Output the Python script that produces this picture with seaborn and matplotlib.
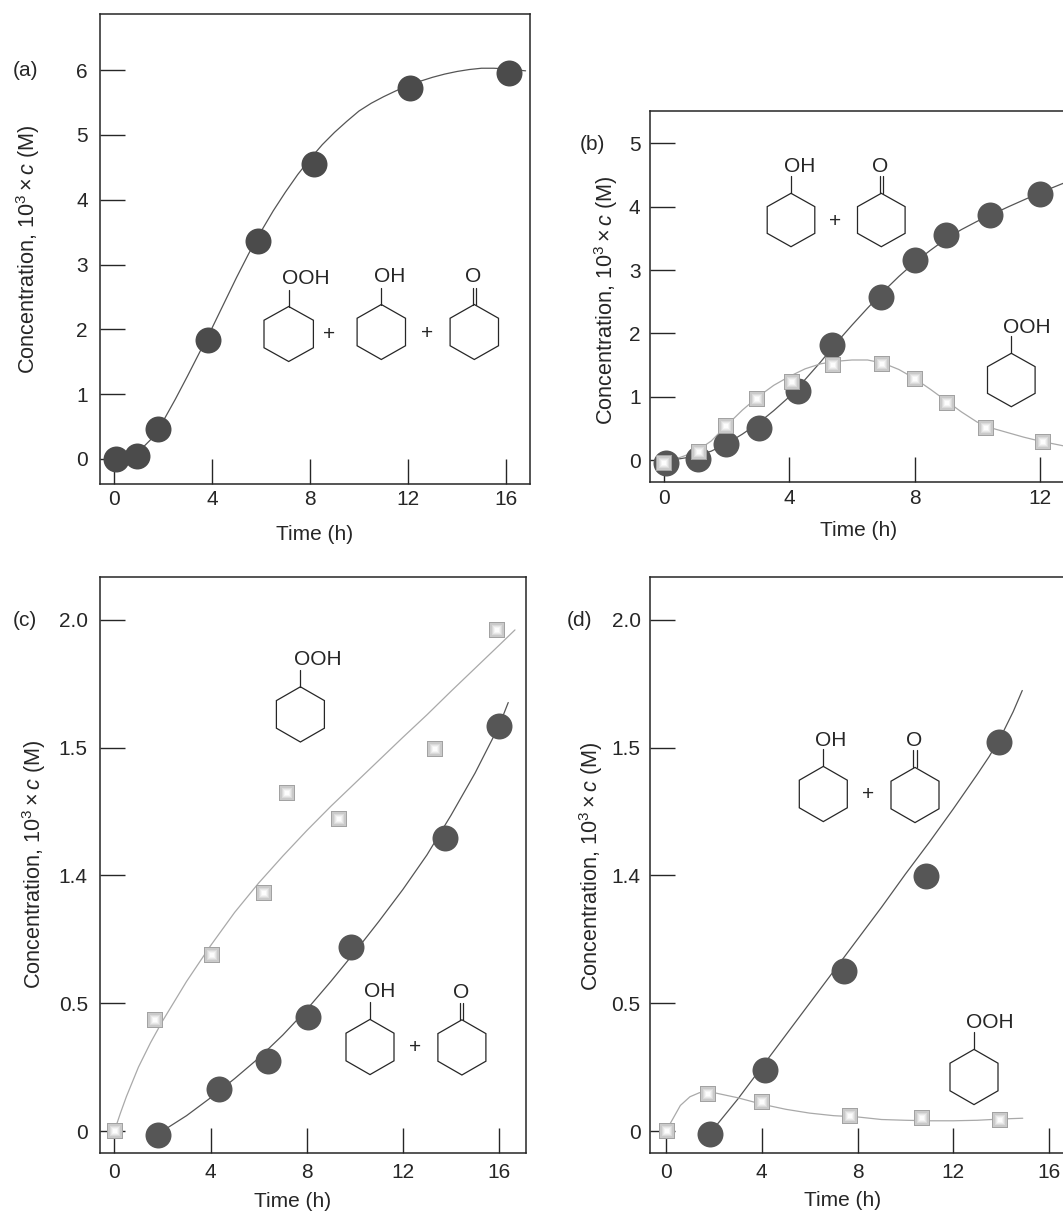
import numpy as np
import matplotlib
matplotlib.use("Agg")
import matplotlib.pyplot as plt
from matplotlib.lines import Line2D
from matplotlib.patches import Polygon
import seaborn as sns

# Panel (a)
a_t = [0.1, 0.95, 1.8, 3.83, 5.86, 8.17, 12.07, 16.13]
a_c = [0.0, 0.05, 0.46, 1.84, 3.36, 4.55, 5.73, 5.95]
a_fit_t = [0, 0.5, 1, 1.5, 2, 2.5, 3, 3.5, 4, 4.5, 5, 5.5, 6, 6.5, 7, 7.5, 8, 8.5, 9, 9.5, 10, 10.5, 11,
           11.5, 12, 12.5, 13, 13.5, 14, 14.5, 15, 15.5, 16, 16.8]
a_fit_c = [0.0, 0.02, 0.11, 0.3, 0.58, 0.92, 1.28, 1.65, 2.02, 2.41, 2.8, 3.17, 3.51, 3.83, 4.12, 4.39, 4.63,
           4.85, 5.04, 5.21, 5.37, 5.49, 5.59, 5.68, 5.76, 5.83, 5.89, 5.94, 5.98, 6.01, 6.03, 6.03, 6.02, 5.99]

# Panel (b)
b_t = [0.06, 1.08, 1.97, 3.04, 4.27, 5.35, 6.92, 8.01, 9.02, 10.4, 12.0]
b_c = [-0.04, 0.02, 0.25, 0.5, 1.09, 1.82, 2.58, 3.16, 3.55, 3.87, 4.21]
b_sq_t = [0.0, 1.11, 1.97, 2.95, 4.08, 5.41, 6.96, 8.02, 9.03, 10.28, 12.1]
b_sq_c = [-0.04, 0.13, 0.53, 0.97, 1.23, 1.5, 1.52, 1.28, 0.9, 0.5, 0.29]
b_fit_t = [0, 0.5, 1, 1.5, 2, 2.5, 3, 3.5, 4, 4.5, 5, 5.5, 6, 6.5, 7, 7.5, 8, 8.5, 9, 9.5, 10, 11, 12, 13]
b_fit_c = [0.0, 0.02, 0.06, 0.14, 0.26, 0.41, 0.58, 0.78, 1.0, 1.27, 1.55, 1.85, 2.13, 2.4, 2.66, 2.9, 3.12,
           3.31, 3.49, 3.64, 3.77, 4.0, 4.22, 4.42]
b_sq_fit_t = [0, 0.5, 1, 1.5, 2, 2.5, 3, 3.5, 4, 4.5, 5, 5.5, 6, 6.5, 7, 7.5, 8, 8.5, 9, 9.5, 10, 10.5, 11, 11.5, 12, 13]
b_sq_fit_c = [0.0, 0.04, 0.13, 0.3, 0.55, 0.79, 1.0, 1.18, 1.32, 1.44, 1.52, 1.56, 1.58, 1.58, 1.53, 1.43, 1.29,
              1.12, 0.94, 0.76, 0.6, 0.5, 0.43, 0.36, 0.3, 0.2]

# Panel (c)
c_t = [1.83, 4.36, 6.39, 8.05, 9.82, 13.76, 15.98]
c_c = [-0.014, 0.166, 0.273, 0.445, 0.718, 1.147, 1.583]
c_sq_t = [0.03, 1.67, 4.04, 6.21, 7.17, 9.35, 13.32, 15.92]
c_sq_c = [0.0, 0.435, 0.688, 0.93, 1.324, 1.222, 1.495, 1.961]
c_fit_t = [2, 3, 4, 5, 6, 7, 8, 9, 10, 11, 12, 13, 14, 15, 16, 16.38]
c_fit_c = [0.0, 0.06, 0.13, 0.205, 0.285, 0.375, 0.475, 0.585, 0.7, 0.82, 0.945, 1.08, 1.235, 1.4, 1.585, 1.676]
c_sq_fit_t = [0, 0.25, 0.5, 1, 1.5, 2, 3, 4, 5, 6, 7, 8, 9, 10, 11, 12, 13, 14, 15, 16, 16.66]
c_sq_fit_c = [0.0, 0.07, 0.135, 0.25, 0.345, 0.43, 0.585, 0.725, 0.855, 0.97, 1.075, 1.175, 1.27, 1.36, 1.45,
              1.54, 1.628, 1.72, 1.81, 1.9, 1.96]

# Panel (d)
d_t = [1.85, 4.12, 7.44, 10.86, 13.91]
d_c = [-0.011, 0.24, 0.624, 0.999, 1.52]
d_sq_t = [0.04, 1.75, 4.01, 7.69, 10.7, 13.95]
d_sq_c = [0.0, 0.144, 0.115, 0.059, 0.051, 0.043]
d_fit_t = [2, 3, 4, 5, 6, 7, 8, 9, 10, 11, 12, 13, 13.5, 14, 14.5, 14.88]
d_fit_c = [0.01, 0.125, 0.25, 0.375, 0.5, 0.625, 0.75, 0.875, 1.005, 1.13, 1.26, 1.395, 1.465, 1.545, 1.64, 1.723]
d_sq_fit_t = [0, 0.3, 0.6, 1, 1.4, 2, 3, 4, 5, 6, 7, 8, 9, 10, 11, 12, 13, 14, 14.9]
d_sq_fit_c = [0.0, 0.05, 0.1, 0.134, 0.15, 0.15, 0.13, 0.105, 0.085, 0.07, 0.06, 0.055, 0.045, 0.042, 0.04,
              0.04, 0.042, 0.047, 0.05]

x_ticks = [0, 4, 8, 12, 16]
x_tick_labels = ["0", "4", "8", "12", "16"]
b_x_ticks = [0, 4, 8, 12]
b_x_tick_labels = ["0", "4", "8", "12"]
a_y_ticks = [0, 1, 2, 3, 4, 5, 6]
b_y_ticks = [0, 1, 2, 3, 4, 5]
cd_y_ticks = [0, 0.5, 1.0, 1.5, 2.0]
cd_y_labels = ["0", "0.5", "1.4", "1.5", "2.0"]

W, H = 1063, 1214
GRAY = "#a9a9a9"
INK = "#262626"

sns.set_theme(style="white")
plt.rcParams["font.family"] = ["Liberation Sans", "DejaVu Sans"]
plt.rcParams["mathtext.fontset"] = "custom"
plt.rcParams["mathtext.rm"] = "Liberation Sans"
plt.rcParams["mathtext.it"] = "Liberation Sans:italic"
plt.rcParams["mathtext.bf"] = "Liberation Sans:bold"

fig = plt.figure(figsize=(W / 100, H / 100), dpi=100, facecolor="white")


def fx(x):
    return x / W


def fy(y):
    return 1 - y / H


def make_axes(left, right, top, bottom, xlim, ylim, xticks, xlabels, yticks, ylabels, xpad, ypad):
    ax = fig.add_axes([fx(left), fy(bottom), (right - left) / W, (bottom - top) / H])
    ax.set_xlim(xlim)
    ax.set_ylim(ylim)
    ax.set_xticks(xticks, xlabels)
    ax.set_yticks(yticks, ylabels)
    ax.tick_params(axis="both", direction="in", length=18, width=1.0, color=INK, labelcolor=INK, labelsize=15)
    ax.tick_params(axis="x", bottom=True, pad=xpad)
    ax.tick_params(axis="y", left=True, pad=ypad)
    for s in ax.spines.values():
        s.set_color(INK)
        s.set_linewidth(1.1)
    return ax


def circles(ax, t, c, fit_t, fit_c, shade="#565656"):
    sns.lineplot(x=fit_t, y=fit_c, ax=ax, color="#555555", linewidth=0.9, estimator=None, sort=False, zorder=2)
    sns.scatterplot(x=t, y=c, ax=ax, marker="o", s=350, color=shade, linewidth=0, zorder=3)


def squares(ax, t, c, fit_t, fit_c):
    sns.lineplot(x=fit_t, y=fit_c, ax=ax, color=GRAY, linewidth=0.9, estimator=None, sort=False, zorder=2)
    # stacked squares give the shaded look of the markers
    layers = [(140, "#a2a2a2"), (112, "#b8b8b8"), (88, "#cacaca"), (60, "#dadada"),
              (36, "#e8e8e8"), (18, "#f4f4f4"), (6, "#fdfdfd")]
    for i, (size, shade) in enumerate(layers):
        sns.scatterplot(x=t, y=c, ax=ax, marker="s", s=size, color=shade, linewidth=0, zorder=4 + i)


def ftext(x, y, s, **kw):
    fig.text(fx(x), fy(y), s, ha=kw.pop("ha", "center"), va="center", color=INK, fontsize=kw.pop("fontsize", 15), **kw)


def ring(cx, cy, hw, hh, group, text_x, text_y, stem=17):
    # cyclohexane drawing, pointy top, with its group above
    xs = [cx, cx + hw, cx + hw, cx, cx - hw, cx - hw]
    ys = [cy - hh, cy - hh / 2, cy + hh / 2, cy + hh, cy + hh / 2, cy - hh / 2]
    pts = [(fx(x), fy(y)) for x, y in zip(xs, ys)]
    fig.add_artist(Polygon(pts, closed=True, fill=False, edgecolor=INK, linewidth=0.9, transform=fig.transFigure))
    top = cy - hh
    offsets = [-1.5, 1.5] if group == "O" else [0]
    for off in offsets:
        fig.add_artist(Line2D([fx(cx + off)] * 2, [fy(top), fy(top - stem)], color=INK, linewidth=0.9))
    ftext(text_x, text_y, group)


# (a)
ax_a = make_axes(99.6, 530, 14, 484, (-0.588, 16.98), (-0.386, 6.867), x_ticks, x_tick_labels,
                 a_y_ticks, [str(v) for v in a_y_ticks], 4.5, 8.5)
circles(ax_a, a_t, a_c, a_fit_t, a_fit_c, shade="#4b4b4b")

# (b) runs off the right side of the page
ax_b = make_axes(650.3, 1196, 110.7, 482.3, (-0.447, 17), (-0.352, 5.518), b_x_ticks, b_x_tick_labels,
                 b_y_ticks, [str(v) for v in b_y_ticks], 4.5, 7)
circles(ax_b, b_t, b_c, b_fit_t, b_fit_c)
squares(ax_b, b_sq_t, b_sq_c, b_sq_fit_t, b_sq_fit_c)

# (c)
ax_c = make_axes(99.6, 526.5, 577, 1153, (-0.616, 17.14), (-0.086, 2.167), x_ticks, x_tick_labels,
                 cd_y_ticks, cd_y_labels, 7, 8.5)
circles(ax_c, c_t, c_c, c_fit_t, c_fit_c)
squares(ax_c, c_sq_t, c_sq_c, c_sq_fit_t, c_sq_fit_c)

# (d)
ax_d = make_axes(650.3, 1096, 577, 1153, (-0.656, 17.96), (-0.086, 2.167), x_ticks, x_tick_labels,
                 cd_y_ticks, cd_y_labels, 7, 7)
circles(ax_d, d_t, d_c, d_fit_t, d_fit_c)
squares(ax_d, d_sq_t, d_sq_c, d_sq_fit_t, d_sq_fit_c)

for ax in [ax_a, ax_b, ax_c, ax_d]:
    ax.set_xlabel("")
    ax.set_ylabel("")

ylab = r"Concentration, $\mathregular{10^3}\times\mathit{c}$ (M)"
ftext(27.7, 249, ylab, rotation=90, fontsize=15.6)
ftext(606.5, 300, ylab, rotation=90, fontsize=15.6)
ftext(33.9, 864, ylab, rotation=90, fontsize=15.6)
ftext(590.7, 866, ylab, rotation=90, fontsize=15.6)

ftext(315, 534, "Time (h)")
ftext(859, 530, "Time (h)")
ftext(293, 1201.5, "Time (h)")
ftext(843, 1201, "Time (h)")

ftext(26, 71, "(a)")
ftext(592, 144, "(b)")
ftext(25, 621, "(c)")
ftext(580, 621, "(d)")

# structures in panel (a)
ring(288.7, 334, 24.7, 27.5, "OOH", 306, 279)
ring(381.3, 332, 24.2, 27.5, "OH", 390, 277)
ring(474.3, 332, 24.2, 27.5, "O", 473.6, 277)
ftext(329, 334.5, "+")
ftext(427, 333.5, "+")

# structures in panel (b)
ring(791, 220, 23.8, 26.7, "OH", 799.3, 167)
ring(881.3, 220, 23.8, 26.7, "O", 880.3, 167)
ftext(834.7, 221.7, "+")
ring(1011.3, 380, 23.8, 26.7, "OOH", 1027, 327.7)

# structures in panel (c)
ring(300.4, 714.4, 24, 27.6, "OOH", 317.7, 659.7)
ring(370, 1047, 24, 27.6, "OH", 379.2, 991.8)
ring(461.9, 1047.4, 24, 27.6, "O", 461, 993)
ftext(415.2, 1047.8, "+")

# structures in panel (d)
ring(823.3, 794, 24, 27.6, "OH", 830.3, 740)
ring(915, 795, 24, 27.6, "O", 914.3, 740)
ftext(868, 794, "+")
ring(974, 1077, 24, 27.6, "OOH", 990, 1022.6)

fig.savefig("out.png", dpi=100, facecolor="white")
